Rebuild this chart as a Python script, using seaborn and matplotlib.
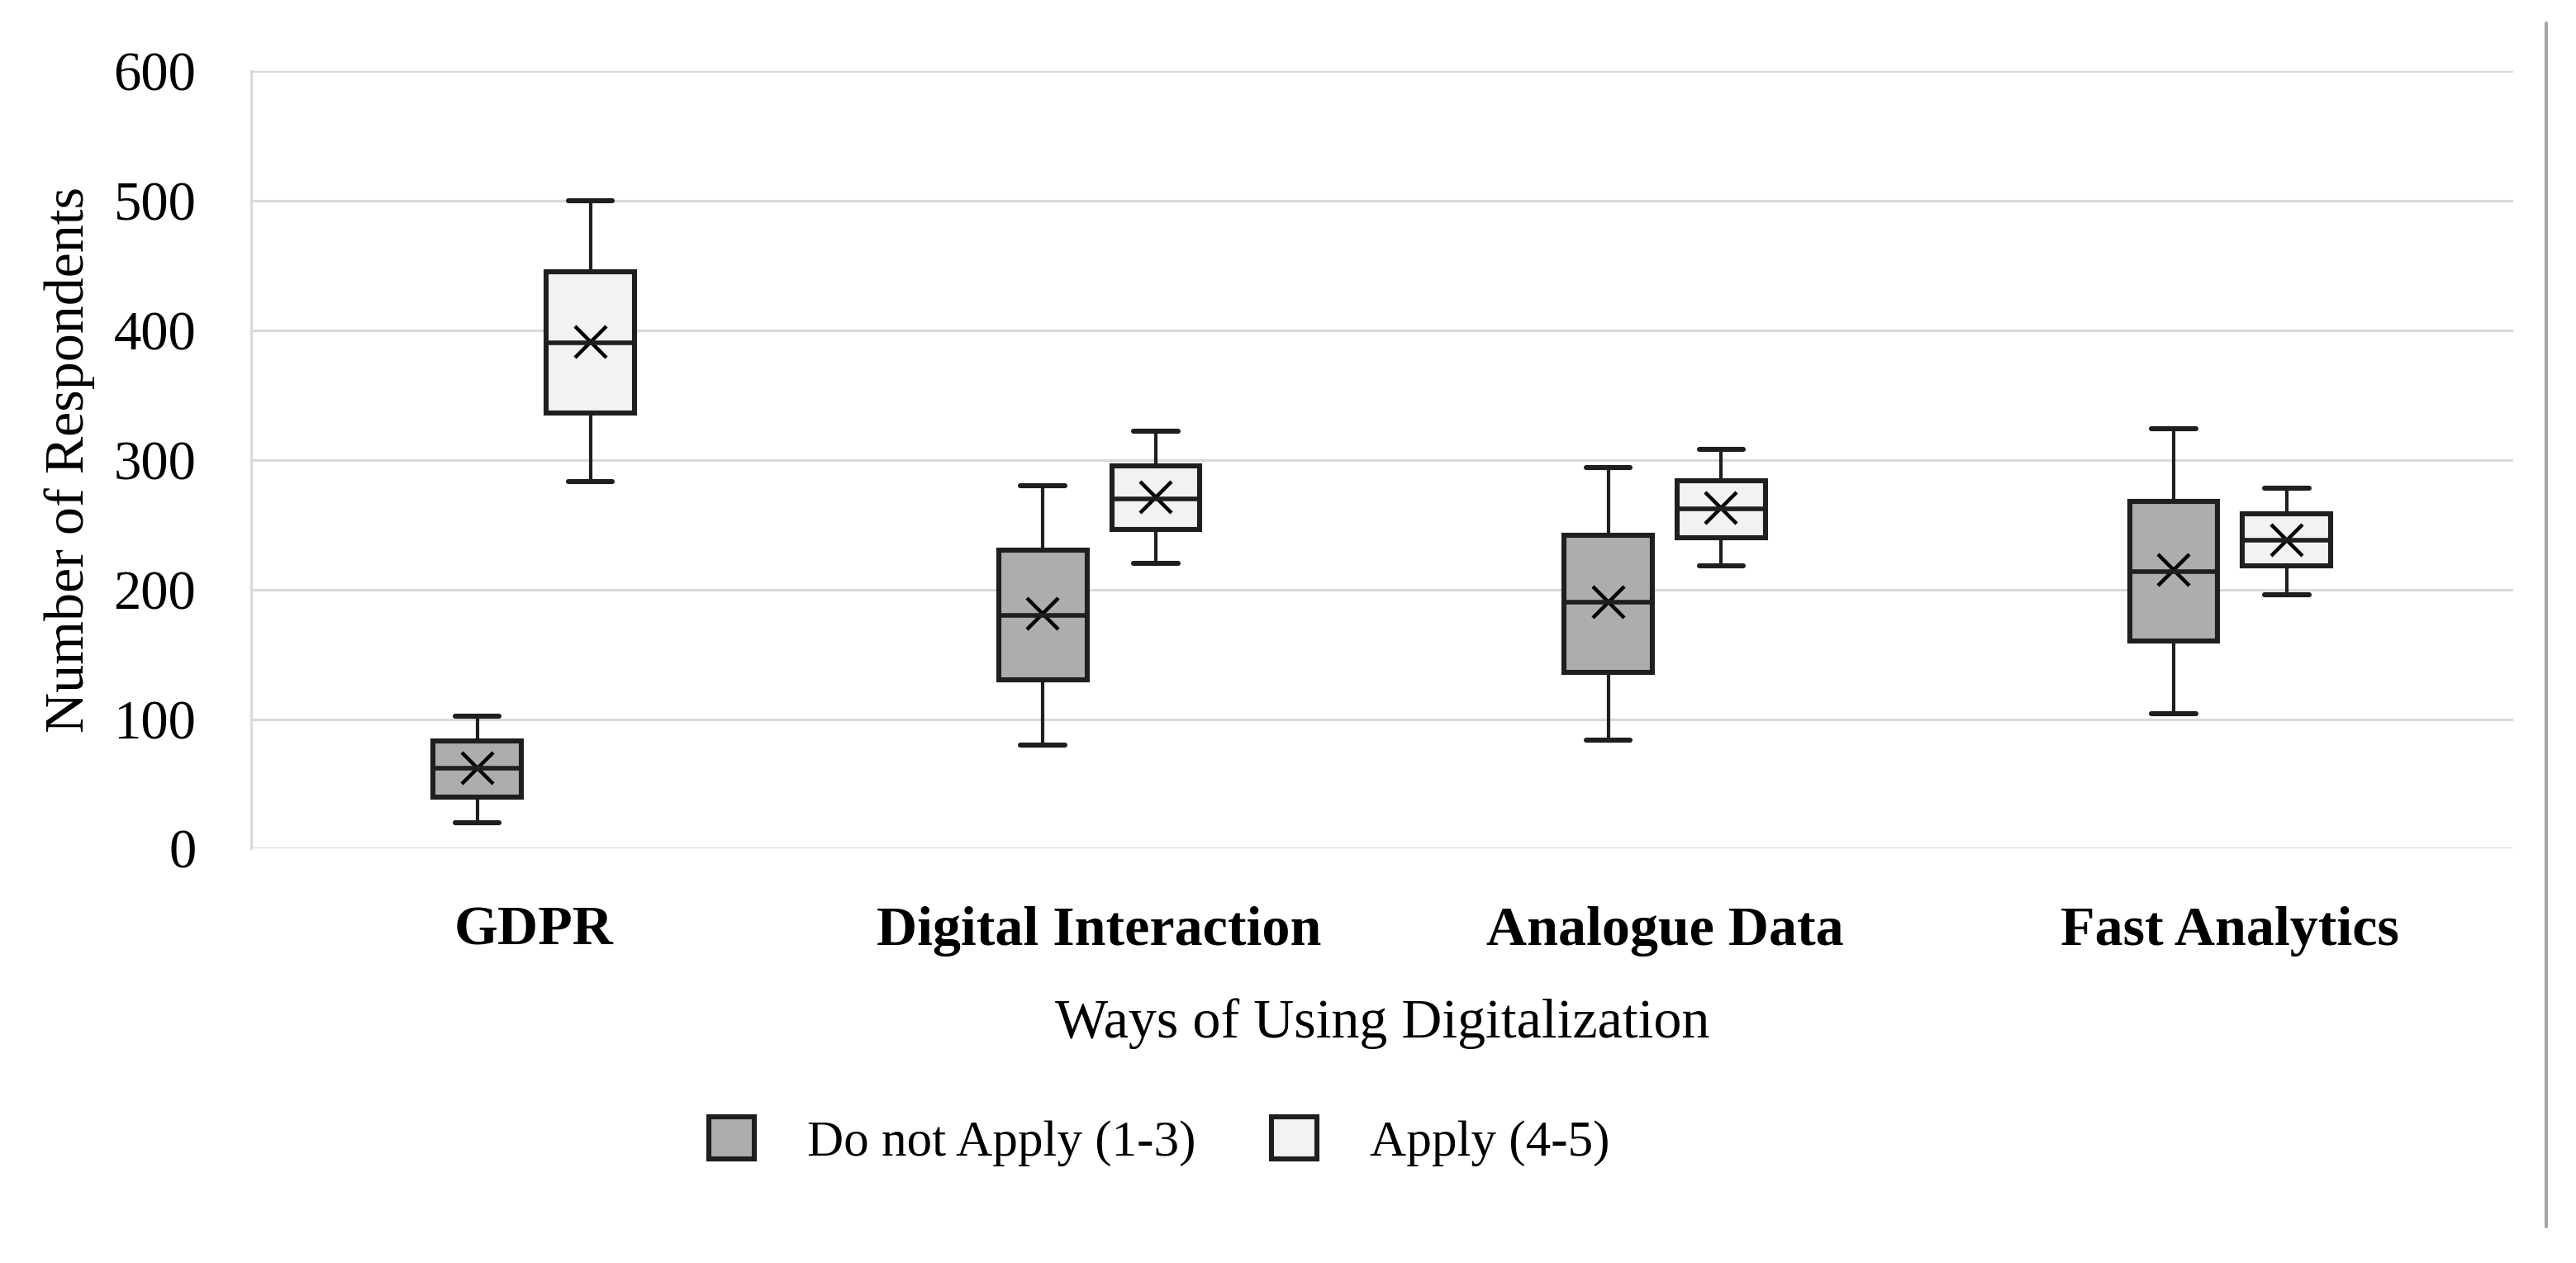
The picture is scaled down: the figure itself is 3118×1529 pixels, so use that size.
import numpy as np
import pandas as pd
import matplotlib
matplotlib.use("Agg")
import matplotlib.pyplot as plt
from matplotlib.lines import Line2D
import seaborn as sns

# categories and groups
categories = ["GDPR", "Digital Interaction", "Analogue Data", "Fast Analytics"]
groups = ["Do not Apply (1-3)", "Apply (4-5)"]

# five-number summaries, one list per group (same order as categories)
low_dn = [20, 80, 84, 104]
q1_dn = [40, 130, 136, 160]
med_dn = [62, 180, 190, 214]
q3_dn = [83, 230, 242, 268]
high_dn = [102, 280, 294, 324]
mean_dn = [62, 181, 190, 215]

low_ap = [283, 220, 218, 196]
q1_ap = [336, 246, 240, 218]
med_ap = [390, 270, 262, 238]
q3_ap = [445, 295, 284, 258]
high_ap = [500, 322, 308, 278]
mean_ap = [391, 271, 263, 238]

rows = []
summaries = {
    groups[0]: (low_dn, q1_dn, med_dn, q3_dn, high_dn),
    groups[1]: (low_ap, q1_ap, med_ap, q3_ap, high_ap),
}
for g, stats in summaries.items():
    for i, cat in enumerate(categories):
        for s in stats:
            rows.append({"category": cat, "group": g, "value": s[i]})
df = pd.DataFrame(rows)

means = pd.DataFrame({
    "category": categories * 2,
    "group": [groups[0]] * 4 + [groups[1]] * 4,
    "value": mean_dn + mean_ap,
})

sns.set_theme(style="white")
plt.rcParams["font.family"] = ["Liberation Serif", "DejaVu Serif"]
plt.rcParams["text.color"] = "black"
plt.rcParams["axes.labelcolor"] = "black"
plt.rcParams["xtick.color"] = "black"
plt.rcParams["ytick.color"] = "black"

fig = plt.figure(figsize=(15.59, 7.645), dpi=200)
ax = fig.add_axes([0.0975, 0.328, 0.878, 0.616])

edge = "#1F1F1F"
palette = {groups[0]: "#B0ACAB", groups[1]: "#F2F2F2"}

sns.boxplot(
    data=df, x="category", y="value", hue="group",
    order=categories, hue_order=groups, palette=palette,
    width=0.4, gap=0.22, whis=(0, 100), fliersize=0,
    linecolor=edge, linewidth=1.6,
    boxprops={"linewidth": 2.2},
    capprops={"linewidth": 2.2},
    whiskerprops={"linewidth": 1.5},
    medianprops={"linewidth": 2.0, "color": edge},
    ax=ax,
)

sns.pointplot(
    data=means, x="category", y="value", hue="group",
    order=categories, hue_order=groups,
    palette={groups[0]: "black", groups[1]: "black"},
    markers="x", linestyles="none", dodge=0.2, errorbar=None,
    markersize=14, markeredgewidth=1.6, legend=False, ax=ax,
)

ax.set_ylim(0, 600)
ax.set_yticks(range(0, 601, 100))
ax.grid(axis="y", color="#D9D9D9", linewidth=1.1)
ax.set_axisbelow(True)
for side in ["top", "right", "bottom"]:
    ax.spines[side].set_visible(False)
ax.spines["left"].set_color("#D9D9D9")
ax.spines["left"].set_linewidth(1.1)
ax.tick_params(axis="both", length=0)
ax.tick_params(axis="y", labelsize=24, pad=24)
ax.tick_params(axis="x", pad=25)
for lbl in ax.get_xticklabels():
    lbl.set_fontweight("bold")
    lbl.set_fontsize(24.5)

ax.set_ylabel("Number of Respondents", fontsize=24.5, labelpad=8)
ax.set_xlabel("Ways of Using Digitalization", fontsize=24.5, labelpad=18)

handles, labels = ax.get_legend_handles_labels()
ax.legend(
    handles[:2], labels[:2],
    loc="center", bbox_to_anchor=(0.45, 0.096), bbox_transform=fig.transFigure,
    ncol=2, frameon=False, fontsize=22, handlelength=0.9, handleheight=0.9,
    handletextpad=1.05, columnspacing=1.5,
)

# thin frame line at the right edge
fig.add_artist(Line2D([0.9885, 0.9885], [1 - 28 / 1529, 1 - 1485 / 1529],
                      transform=fig.transFigure, color="#A6A6A6", linewidth=1.5))

fig.savefig("out.png", dpi=200, facecolor="white")
